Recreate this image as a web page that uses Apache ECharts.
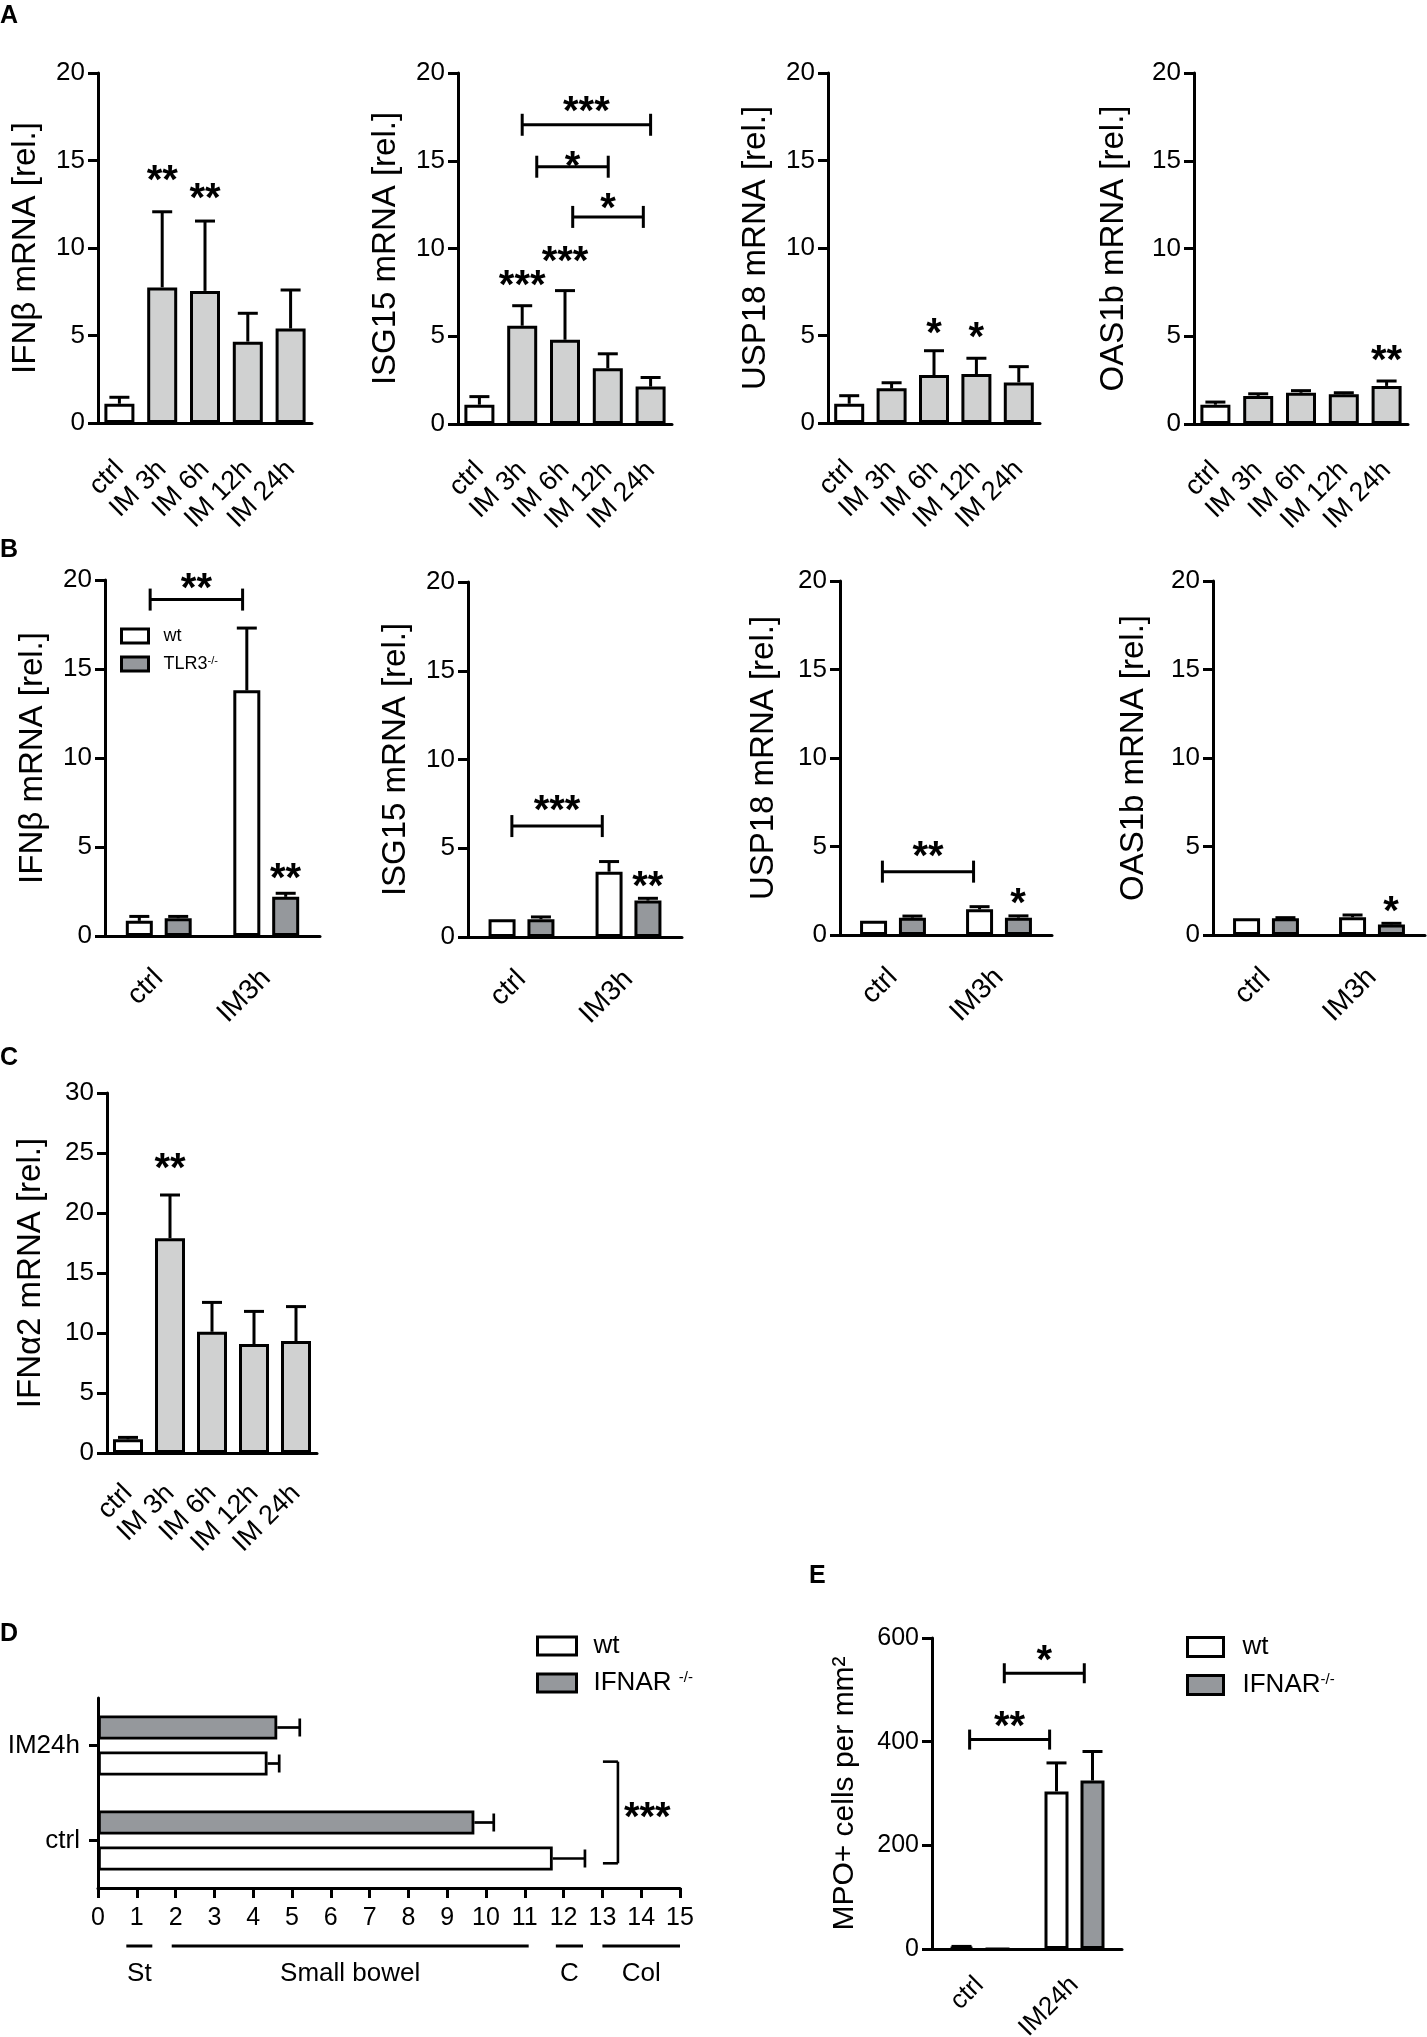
<!DOCTYPE html>
<html><head><meta charset="utf-8">
<script src="https://cdn.jsdelivr.net/npm/echarts@6/dist/echarts.min.js"></script>
<style>html,body{margin:0;padding:0;background:#fff}#c{width:1427px;height:2037px}</style>
</head><body><div id="c"></div>
<script>
// ---------------- DATA ----------------
const catsTime = ['ctrl', 'IM 3h', 'IM 6h', 'IM 12h', 'IM 24h'];
const catsB = ['ctrl', 'IM3h'];
const catsD = ['ctrl', 'IM24h'];
const catsE = ['ctrl', 'IM24h'];

// Panel A (mean, mean+SD)
const ifnbA = [1.1, 7.75, 7.55, 4.65, 5.4];
const ifnbAErr = [1.47, 12.07, 11.54, 6.27, 7.6];
const isg15A = [1.1, 5.6, 4.8, 3.18, 2.13];
const isg15AErr = [1.56, 6.74, 7.6, 4.0, 2.65];
const usp18A = [1.1, 1.98, 2.74, 2.8, 2.32];
const usp18AErr = [1.56, 2.3, 4.13, 3.7, 3.22];
const oas1bA = [1.1, 1.6, 1.78, 1.7, 2.17];
const oas1bAErr = [1.25, 1.72, 1.9, 1.78, 2.45];

// significance: [position (category index), y of star, label]
const ifnbAStars = [[1, 14.36, '**'], [2, 13.3, '**']];
const isg15AStars = [[1, 8.4, '***'], [2, 9.75, '***']];
const usp18AStars = [[2, 5.6, '*'], [3, 5.4, '*']];
const oas1bAStars = [[4, 4.12, '**']];
// brackets: [from, to, line y, star y, label]
const isg15ABrackets = [[1, 4, 17.05, 18.27, '***'], [1.34, 3.01, 14.66, 15.14, '*'], [2.18, 3.83, 11.8, 12.76, '*']];

// Panel B
const ifnbBWt = [0.85, 13.8], ifnbBWtErr = [1.1, 17.3];
const ifnbBTlr3 = [1.0, 2.2], ifnbBTlr3Err = [1.1, 2.4];
const isg15BWt = [1.0, 3.68], isg15BWtErr = [1.0, 4.25];
const isg15BTlr3 = [1.0, 2.05], isg15BTlr3Err = [1.13, 2.18];
const usp18BWt = [0.81, 1.45], usp18BWtErr = [0.81, 1.6];
const usp18BTlr3 = [0.98, 0.98], usp18BTlr3Err = [1.07, 1.08];
const oas1bBWt = [0.94, 1.0], oas1bBWtErr = [0.94, 1.13];
const oas1bBTlr3 = [0.94, 0.6], oas1bBTlr3Err = [0.98, 0.66];
const ifnbBStars = [[1.18, 3.7, '**']];
const ifnbBBrackets = [[-0.08, 0.78, 18.9, 20.0, '**']];
const isg15BStars = [[1.18, 3.3, '**']];
const isg15BBrackets = [[-0.09, 0.755, 6.25, 7.6, '***']];
const usp18BStars = [[1.18, 2.26, '*']];
const usp18BBrackets = [[-0.1, 0.76, 3.58, 4.9, '**']];
const oas1bBStars = [[1.18, 1.79, '*']];

// Panel C
const ifna2C = [1.14, 17.9, 10.1, 9.08, 9.33];
const ifna2CErr = [1.3, 21.5, 12.55, 11.8, 12.2];
const ifna2CStars = [[1, 24.4, '**']];

// Panel D (horizontal)
const dWt = [11.72, 4.37], dWtErr = [12.55, 4.67];
const dIfnar = [9.7, 4.62], dIfnarErr = [10.2, 5.2];
const dBracket = [[0.83, -0.24, 13.4, '***']]; // [from cat pos, to cat pos, x value, label]
const regionNames = ['St', 'Small bowel', 'C', 'Col'];
const regionFrom = [0.73, 1.9, 11.8, 13.0];
const regionTo = [1.4, 11.1, 12.5, 15.0];

// Panel E
const eWt = [4, 304], eWtErr = [5, 359];
const eIfnar = [0, 325], eIfnarErr = [0, 381];
const eBrackets = [[-0.104, 0.738, 404, 446, '**'], [0.261, 1.103, 532, 574, '*']];

// ---------------- STYLE / LAYOUT ----------------
const FONT = "'Liberation Sans', Arial, sans-serif";
const WHITE = '#ffffff', LIGHT = '#d0d1d1', DARK = '#95989c';
const timeColors = [WHITE, LIGHT, LIGHT, LIGHT, LIGHT];
const STAR_FS = 40;
const L = {
  A1: {left: 98, top: 73, width: 214, height: 350},
  A2: {left: 458, top: 73, width: 214, height: 351},
  A3: {left: 828, top: 73, width: 212, height: 350},
  A4: {left: 1194, top: 73, width: 214, height: 351},
  B1: {left: 105, top: 580, width: 215, height: 356},
  B2: {left: 468, top: 582, width: 214, height: 355},
  B3: {left: 840, top: 581, width: 212, height: 354},
  B4: {left: 1213, top: 581, width: 212, height: 354},
  C: {left: 107, top: 1093, width: 210, height: 360},
  D: {left: 98, top: 1698, width: 582, height: 190},
  E: {left: 932, top: 1638, width: 190, height: 311}
};

const option = {
  backgroundColor: '#fff', animation: false,
  textStyle: {fontFamily: FONT, color: '#000'},
  title: [], grid: [], xAxis: [], yAxis: [], series: [], legend: []
};

function ln(x1, y1, x2, y2, w) {
  return {type: 'line', shape: {x1, y1, x2, y2}, style: {stroke: '#000', lineWidth: w || 3}};
}
function txt(x, y, t, fs, align) {
  return {type: 'text', style: {text: t, x, y, align: align || 'center', verticalAlign: 'middle',
    fontSize: fs, fontWeight: 'bold', fontFamily: FONT, fill: '#000'}};
}

function errV(off, cap) {
  return function (params, api) {
    const v = api.value(1), t = api.value(2);
    if (!(t > v)) return {type: 'group', children: []};
    const p0 = api.coord([api.value(0), v]), p1 = api.coord([api.value(0), t]);
    const x = p0[0] + off;
    return {type: 'group', children: [ln(x, p0[1], x, p1[1]), ln(x - cap / 2, p1[1], x + cap / 2, p1[1])]};
  };
}
function errH(off, cap) {
  return function (params, api) {
    const v = api.value(0), t = api.value(2);
    if (!(t > v)) return {type: 'group', children: []};
    const p0 = api.coord([v, api.value(1)]), p1 = api.coord([t, api.value(1)]);
    const y = p0[1] + off;
    return {type: 'group', children: [ln(p0[0], y, p1[0], y, 2.7), ln(p1[0], y - cap / 2, p1[0], y + cap / 2, 2.7)]};
  };
}

function starSeries(g, stars) {
  return {
    type: 'custom', xAxisIndex: g, yAxisIndex: g, silent: true, z: 5, clip: false,
    encode: {x: 0, y: 1},
    data: stars.map(s => [0, s[1], s[0]]),
    renderItem: function (params, api) {
      const y = api.value(1), pos = api.value(2);
      const a = api.coord([0, y]), b = api.coord([1, y]);
      const x = a[0] + pos * (b[0] - a[0]);
      return txt(x, a[1] + STAR_FS * 0.25, stars[params.dataIndex][2], STAR_FS);
    }
  };
}
function bracketSeries(g, brs, tick) {
  return {
    type: 'custom', xAxisIndex: g, yAxisIndex: g, silent: true, z: 5, clip: false,
    encode: {x: 0, y: 1},
    data: brs.map(b => [0, b[2], b[0], b[1], b[3]]),
    renderItem: function (params, api) {
      const ly = api.value(1), f = api.value(2), t = api.value(3), sy = api.value(4);
      const a = api.coord([0, ly]), b = api.coord([1, ly]);
      const band = b[0] - a[0];
      const x1 = a[0] + f * band, x2 = a[0] + t * band, yy = a[1];
      const sp = api.coord([0, sy]);
      return {type: 'group', children: [
        ln(x1, yy, x2, yy), ln(x1, yy - tick, x1, yy + tick), ln(x2, yy - tick, x2, yy + tick),
        txt((x1 + x2) / 2, sp[1] + STAR_FS * 0.25, brs[params.dataIndex][4], STAR_FS)
      ]};
    }
  };
}

function addPanel(p) {
  const g = option.grid.length;
  option.grid.push(Object.assign({containLabel: false, outerBoundsMode: 'none'}, L[p.key]));
  option.xAxis.push({
    type: 'category', gridIndex: g, data: p.cats,
    axisLine: {lineStyle: {color: '#000', width: 3}},
    axisTick: {alignWithLabel: true, length: 12, lineStyle: {color: '#000', width: 3}},
    axisLabel: {rotate: 45, interval: 0, fontSize: p.xFs, margin: p.xMargin, color: '#000', fontFamily: FONT},
    splitLine: {show: false}
  });
  option.yAxis.push({
    type: 'value', gridIndex: g, min: 0, max: p.yMax, interval: p.yInt,
    name: p.yName, nameLocation: 'middle', nameGap: p.nameGap,
    nameTextStyle: {fontSize: p.nameFs || 33, color: '#000', fontFamily: FONT},
    axisLine: {show: true, lineStyle: {color: '#000', width: 3}},
    axisTick: {show: true, length: 10, lineStyle: {color: '#000', width: 3}},
    axisLabel: {fontSize: p.yFs || 26, margin: 13, color: '#000', fontFamily: FONT},
    splitLine: {show: false}
  });
  const n = p.series.length;
  p.series.forEach((s, k) => {
    option.series.push({
      type: 'bar', name: s.name, xAxisIndex: g, yAxisIndex: g, barWidth: p.barWidth, barGap: p.barGap,
      itemStyle: {color: s.colors[0], borderColor: '#000', borderWidth: 3},
      data: s.values.map((v, i) => ({value: v, itemStyle: {color: s.colors[i % s.colors.length]}})),
      silent: true, z: 2
    });
    const off = (k - (n - 1) / 2) * p.barWidth * (1 + parseFloat(p.barGap) / 100);
    option.series.push({
      type: 'custom', xAxisIndex: g, yAxisIndex: g, silent: true, z: 3,
      encode: {x: 0, y: 1},
      data: s.values.map((v, i) => [i, v, s.errs[i]]),
      renderItem: errV(off, p.cap)
    });
  });
  if (p.stars && p.stars.length) option.series.push(starSeries(g, p.stars));
  if (p.brackets && p.brackets.length) option.series.push(bracketSeries(g, p.brackets, p.tick || 11));
  return g;
}

// ---------------- PANEL A ----------------
const aCommon = {cats: catsTime, yMax: 20, yInt: 5, barWidth: 30, barGap: '0%', cap: 20, xFs: 27, xMargin: 42};
addPanel(Object.assign({key: 'A1', yName: 'IFNβ mRNA [rel.]', nameGap: 56,
  series: [{name: 'IFNβ', values: ifnbA, errs: ifnbAErr, colors: timeColors}], stars: ifnbAStars}, aCommon));
addPanel(Object.assign({key: 'A2', yName: 'ISG15 mRNA [rel.]', nameGap: 56,
  series: [{name: 'ISG15', values: isg15A, errs: isg15AErr, colors: timeColors}], stars: isg15AStars, brackets: isg15ABrackets}, aCommon));
addPanel(Object.assign({key: 'A3', yName: 'USP18 mRNA [rel.]', nameGap: 56,
  series: [{name: 'USP18', values: usp18A, errs: usp18AErr, colors: timeColors}], stars: usp18AStars}, aCommon));
addPanel(Object.assign({key: 'A4', yName: 'OAS1b mRNA [rel.]', nameGap: 64,
  series: [{name: 'OAS1b', values: oas1bA, errs: oas1bAErr, colors: timeColors}], stars: oas1bAStars}, aCommon));

// ---------------- PANEL B ----------------
const bCommon = {cats: catsB, yMax: 20, yInt: 5, barWidth: 27, barGap: '44%', cap: 20, xFs: 28, xMargin: 38};
addPanel(Object.assign({key: 'B1', yName: 'IFNβ mRNA [rel.]', nameGap: 56,
  series: [{name: 'wt', values: ifnbBWt, errs: ifnbBWtErr, colors: [WHITE]},
           {name: 'TLR3', values: ifnbBTlr3, errs: ifnbBTlr3Err, colors: [DARK]}],
  stars: ifnbBStars, brackets: ifnbBBrackets}, bCommon));
addPanel(Object.assign({key: 'B2', yName: 'ISG15 mRNA [rel.]', nameGap: 56,
  series: [{name: 'wt', values: isg15BWt, errs: isg15BWtErr, colors: [WHITE]},
           {name: 'TLR3', values: isg15BTlr3, errs: isg15BTlr3Err, colors: [DARK]}],
  stars: isg15BStars, brackets: isg15BBrackets}, bCommon));
addPanel(Object.assign({key: 'B3', yName: 'USP18 mRNA [rel.]', nameGap: 60,
  series: [{name: 'wt', values: usp18BWt, errs: usp18BWtErr, colors: [WHITE]},
           {name: 'TLR3', values: usp18BTlr3, errs: usp18BTlr3Err, colors: [DARK]}],
  stars: usp18BStars, brackets: usp18BBrackets}, bCommon));
addPanel(Object.assign({key: 'B4', yName: 'OAS1b mRNA [rel.]', nameGap: 63,
  series: [{name: 'wt', values: oas1bBWt, errs: oas1bBWtErr, colors: [WHITE]},
           {name: 'TLR3', values: oas1bBTlr3, errs: oas1bBTlr3Err, colors: [DARK]}],
  stars: oas1bBStars}, bCommon));
option.legend.push({
  data: ['wt', 'TLR3'], left: 120, top: 627, orient: 'vertical', padding: 0,
  itemWidth: 27, itemHeight: 14, itemGap: 10, icon: 'rect', selectedMode: false,
  itemStyle: {borderColor: '#000', borderWidth: 3},
  formatter: n => n === 'TLR3' ? 'TLR3{sup|-/-}' : n,
  textStyle: {fontSize: 18, color: '#000', fontFamily: FONT, padding: [0, 0, 0, 10],
    rich: {sup: {fontSize: 11, verticalAlign: 'top', fontFamily: FONT, color: '#000'}}}
});

// ---------------- PANEL C ----------------
addPanel({key: 'C', cats: catsTime, yMax: 30, yInt: 5, barWidth: 30, barGap: '0%', cap: 20, xFs: 27, xMargin: 36,
  yName: 'IFNα2 mRNA [rel.]', nameGap: 60,
  series: [{name: 'IFNα2', values: ifna2C, errs: ifna2CErr, colors: timeColors}], stars: ifna2CStars});

// ---------------- PANEL D ----------------
(function () {
  const g = option.grid.length;
  option.grid.push(Object.assign({containLabel: false, outerBoundsMode: 'none'}, L.D));
  option.xAxis.push({
    type: 'value', gridIndex: g, min: 0, max: 15, interval: 1,
    axisLine: {show: true, lineStyle: {color: '#000', width: 3}},
    axisTick: {show: true, length: 10, lineStyle: {color: '#000', width: 3}},
    axisLabel: {fontSize: 25, margin: 18, color: '#000', fontFamily: FONT},
    splitLine: {show: false}
  });
  option.yAxis.push({
    type: 'category', gridIndex: g, data: catsD,
    axisLine: {show: true, lineStyle: {color: '#000', width: 3}},
    axisTick: {show: true, alignWithLabel: true, length: 9, lineStyle: {color: '#000', width: 3}},
    axisLabel: {fontSize: 26, margin: 18, color: '#000', fontFamily: FONT},
    splitLine: {show: false}
  });
  const ser = [{name: 'IFNAR', values: dIfnar, errs: dIfnarErr, color: DARK},
               {name: 'wt', values: dWt, errs: dWtErr, color: WHITE}];
  const bw = 24, gap = 50;
  ser.forEach((s, k) => {
    option.series.push({type: 'bar', name: s.name, xAxisIndex: g, yAxisIndex: g, barWidth: bw, barGap: gap + '%',
      itemStyle: {color: s.color, borderColor: '#000', borderWidth: 2.8}, data: s.values, silent: true});
    const off = (k - 0.5) * bw * (1 + gap / 100);
    option.series.push({type: 'custom', xAxisIndex: g, yAxisIndex: g, silent: true, z: 3, encode: {x: 0, y: 1},
      data: s.values.map((v, i) => [v, i, s.errs[i]]), renderItem: errH(off, 18)});
  });
  // significance bracket (vertical)
  option.series.push({
    type: 'custom', xAxisIndex: g, yAxisIndex: g, silent: true, z: 5, clip: false, encode: {x: 0, y: 1},
    data: dBracket.map(b => [b[2], 0, b[0], b[1]]),
    renderItem: function (params, api) {
      const xv = api.value(0), f = api.value(2), t = api.value(3);
      const a = api.coord([xv, 0]), b = api.coord([xv, 1]);
      const band = a[1] - b[1];
      const y1 = a[1] - f * band, y2 = a[1] - t * band, x = a[0];
      return {type: 'group', children: [
        ln(x, y1, x, y2, 2.6), ln(x - 15, y1, x, y1, 2.6), ln(x - 15, y2, x, y2, 2.6),
        txt(x + 6, (y1 + y2) / 2 - 4 + STAR_FS * 0.25, dBracket[params.dataIndex][3], STAR_FS, 'left')
      ]};
    }
  });
  // gut region annotations below the axis
  option.series.push({
    type: 'custom', xAxisIndex: g, yAxisIndex: g, silent: true, z: 5, clip: false, encode: {x: 0, y: 1},
    data: regionFrom.map((f, i) => [f, 0, regionTo[i]]),
    renderItem: function (params, api) {
      const cs = params.coordSys;
      const p0 = api.coord([api.value(0), 0]), p1 = api.coord([api.value(2), 0]);
      const base = cs.y + cs.height;
      return {type: 'group', children: [
        ln(p0[0], base + 58, p1[0], base + 58, 3),
        {type: 'text', style: {text: regionNames[params.dataIndex], x: (p0[0] + p1[0]) / 2, y: base + 86,
          align: 'center', verticalAlign: 'middle', fontSize: 26, fontFamily: FONT, fill: '#000'}}
      ]};
    }
  });
  option.legend.push({
    data: ['wt', 'IFNAR'], left: 536, top: 1633, orient: 'vertical', padding: 0,
    itemWidth: 39, itemHeight: 18, itemGap: 11, icon: 'rect', selectedMode: false,
    itemStyle: {borderColor: '#000', borderWidth: 3},
    formatter: n => n === 'IFNAR' ? 'IFNAR {sup|-/-}' : n,
    textStyle: {fontSize: 26, color: '#000', fontFamily: FONT, padding: [0, 0, 0, 12],
      rich: {sup: {fontSize: 15, verticalAlign: 'top', fontFamily: FONT, color: '#000'}}}
  });
})();

// ---------------- PANEL E ----------------
addPanel({key: 'E', cats: catsE, yMax: 600, yInt: 200, barWidth: 24, barGap: '50%', cap: 20, xFs: 26, xMargin: 32,
  yName: 'MPO+ cells per mm²', nameGap: 72, nameFs: 30, yFs: 25, tick: 10,
  series: [{name: 'wt', values: eWt, errs: eWtErr, colors: [WHITE]},
           {name: 'IFNAR', values: eIfnar, errs: eIfnarErr, colors: [DARK]}],
  brackets: eBrackets});
option.legend.push({
  data: ['wt', 'IFNAR'], left: 1186, top: 1634, orient: 'vertical', padding: 0,
  itemWidth: 36, itemHeight: 19, itemGap: 12, icon: 'rect', selectedMode: false,
  itemStyle: {borderColor: '#000', borderWidth: 3},
  formatter: n => n === 'IFNAR' ? 'IFNAR{sup|-/-}' : n,
  textStyle: {fontSize: 26, color: '#000', fontFamily: FONT, padding: [0, 0, 0, 14],
    rich: {sup: {fontSize: 15, verticalAlign: 'top', fontFamily: FONT, color: '#000'}}}
});

// ---------------- PANEL LETTERS ----------------
[['A', 0, 4], ['B', 0, 538], ['C', 0, 1046], ['D', 0, 1622], ['E', 809, 1564]].forEach(l => {
  option.title.push({text: l[0], left: l[1], top: l[2], padding: 0,
    textStyle: {fontSize: 25, fontWeight: 'bold', color: '#000', fontFamily: FONT}});
});

const chart = echarts.init(document.getElementById('c'), null, {renderer: 'canvas'});
chart.setOption(option);
</script>
</body></html>
